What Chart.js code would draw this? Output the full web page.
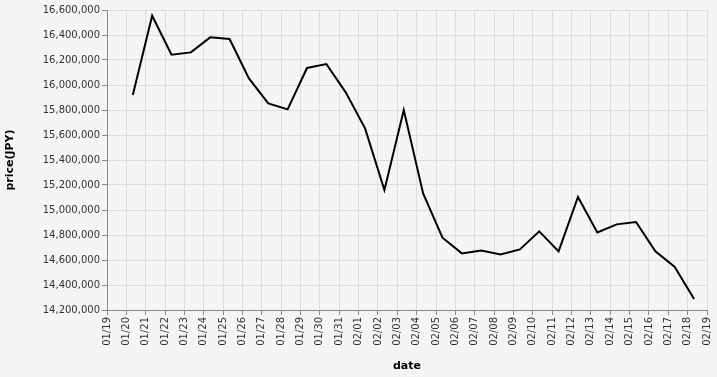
<!DOCTYPE html>
<html>
<head>
<meta charset="utf-8">
<script src="https://cdn.jsdelivr.net/npm/chart.js@4/dist/chart.umd.min.js"></script>
<style>
  html, body { margin: 0; padding: 0; background: #f5f5f5; }
  canvas { display: block; }
</style>
</head>
<body>
<canvas id="c" width="717" height="377"></canvas>
<script>
// ---- data ----
const startDate = '2025-01-19';
const xTickLabels = ['01/19','01/20','01/21','01/22','01/23','01/24','01/25','01/26','01/27','01/28','01/29','01/30','01/31',
  '02/01','02/02','02/03','02/04','02/05','02/06','02/07','02/08','02/09','02/10','02/11','02/12','02/13','02/14','02/15','02/16','02/17','02/18','02/19'];
const times = ['2025-01-20T08:00','2025-01-21T08:00','2025-01-22T08:00','2025-01-23T08:00','2025-01-24T08:00','2025-01-25T08:00',
  '2025-01-26T08:00','2025-01-27T08:00','2025-01-28T08:00','2025-01-29T08:00','2025-01-30T08:00','2025-01-31T08:00',
  '2025-02-01T08:00','2025-02-02T08:00','2025-02-03T08:00','2025-02-04T08:00','2025-02-05T08:00','2025-02-06T08:00',
  '2025-02-07T08:00','2025-02-08T08:00','2025-02-09T08:00','2025-02-10T08:00','2025-02-11T08:00','2025-02-12T08:00',
  '2025-02-13T08:00','2025-02-14T08:00','2025-02-15T08:00','2025-02-16T08:00','2025-02-17T08:00','2025-02-18T08:00'];
const prices = [15920000,16554000,16243000,16261000,16381000,16368000,
  16053000,15853000,15805000,16136000,16168000,15941000,
  15653000,15160000,15800000,15133000,14778000,14653000,
  14675000,14645000,14685000,14829000,14669000,15104000,
  14821000,14885000,14904000,14669000,14544000,14288000];
const yMin = 14200000, yMax = 16600000, yStep = 200000;

// ---- build ----
const DAY = 86400000;
const t0 = Date.parse(startDate + 'T00:00:00Z');
const points = times.map((t, i) => ({ x: (Date.parse(t + ':00Z') - t0) / DAY, y: prices[i] }));

const bgPlugin = {
  id: 'bg',
  beforeDraw(chart) {
    const ctx = chart.ctx;
    ctx.save();
    ctx.fillStyle = '#f5f5f5';
    ctx.fillRect(0, 0, chart.width, chart.height);
    ctx.restore();
  }
};

new Chart(document.getElementById('c'), {
  type: 'line',
  data: {
    datasets: [{
      data: points,
      borderColor: '#000000',
      borderWidth: 2,
      pointRadius: 0,
      tension: 0,
      fill: false
    }]
  },
  options: {
    responsive: false,
    animation: false,
    layout: { padding: { top: 10, right: 10, left: 0, bottom: 0 } },
    plugins: { legend: { display: false }, tooltip: { enabled: false } },
    scales: {
      x: {
        type: 'linear',
        min: 0,
        max: xTickLabels.length - 1,
        afterFit(s) { s.height = 67; s.paddingRight = 0; s.paddingLeft = 0; },
        afterBuildTicks(s) { s.ticks = xTickLabels.map((_, i) => ({ value: i })); },
        ticks: {
          stepSize: 1,
          autoSkip: false,
          maxRotation: 90,
          minRotation: 90,
          padding: 2,
          color: '#333',
          font: { family: 'DejaVu Sans', size: 10 },
          callback: (v) => xTickLabels[v]
        },
        grid: { color: '#dddddd', lineWidth: 1, tickLength: 5, tickColor: '#888' },
        border: { color: '#888', width: 1 },
        title: {
          display: true, text: 'date', color: '#000',
          font: { family: 'DejaVu Sans', size: 11, weight: 'bold' },
          padding: { top: 0, bottom: 4 }
        }
      },
      y: {
        min: yMin,
        max: yMax,
        afterFit(s) { s.width = 107; },
        ticks: {
          stepSize: yStep,
          padding: 2,
          color: '#333',
          font: { family: 'DejaVu Sans', size: 10 },
          callback: (v) => v.toLocaleString('en-US')
        },
        grid: { color: '#dddddd', lineWidth: 1, tickLength: 5, tickColor: '#888' },
        border: { color: '#888', width: 1 },
        title: {
          display: true, text: 'price(JPY)', color: '#000',
          font: { family: 'DejaVu Sans', size: 11, weight: 'bold' },
          padding: { top: 4, bottom: 0 }
        }
      }
    }
  },
  plugins: [bgPlugin]
});
</script>
</body>
</html>
